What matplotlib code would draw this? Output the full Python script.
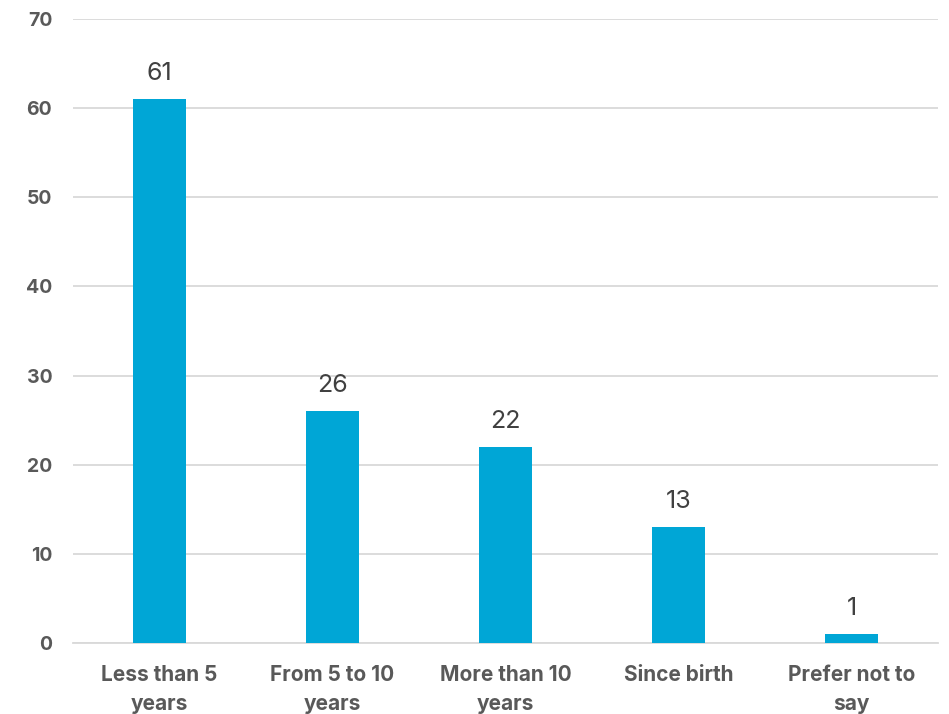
import matplotlib
matplotlib.use("Agg")
import matplotlib.pyplot as plt

# data
categories = ["Less than 5\nyears", "From 5 to 10\nyears", "More than 10\nyears",
              "Since birth", "Prefer not to\nsay"]
counts = [61, 26, 22, 13, 1]
y_ticks = [0, 10, 20, 30, 40, 50, 60, 70]

bar_color = "#00A6D6"
text_color = "#595959"
grid_color = "#D9D9D9"

plt.rcParams["font.family"] = ["Inter", "DejaVu Sans"]

fig = plt.figure(figsize=(9.49, 7.14), dpi=100)
ax = fig.add_axes([0.0769, 0.0994, 0.9115, 0.874])

x = list(range(len(categories)))
bars = ax.bar(x, counts, width=0.31, color=bar_color, zorder=3)

for rect, v in zip(bars, counts):
    ax.annotate(str(v), (rect.get_x() + rect.get_width() / 2, v),
                xytext=(0, 10), textcoords="offset points",
                ha="center", va="bottom", fontsize=18, color="#404040")

ax.set_xlim(-0.5, len(categories) - 0.5)
ax.set_ylim(0, 70)
ax.set_yticks(y_ticks)
ax.set_xticks(x)
ax.set_xticklabels(categories, fontweight="bold", fontsize=15,
                   color=text_color, linespacing=1.55)
for lab in ax.get_yticklabels():
    lab.set_fontweight("bold")
    lab.set_fontsize(14)
    lab.set_color(text_color)

ax.tick_params(axis="y", length=0, pad=15)
ax.tick_params(axis="x", length=0, pad=16)
ax.grid(axis="y", color=grid_color, linewidth=1.3, zorder=0)
for s in ["top", "right", "left"]:
    ax.spines[s].set_visible(False)
ax.spines["bottom"].set_color(grid_color)
ax.spines["bottom"].set_linewidth(1.3)

fig.savefig("out.png", dpi=100)
